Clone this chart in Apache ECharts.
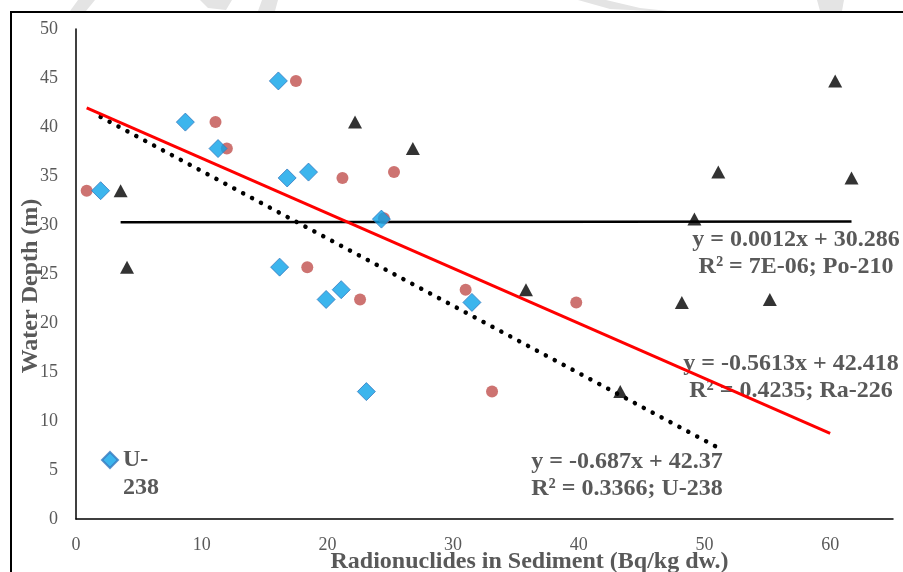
<!DOCTYPE html>
<html>
<head>
<meta charset="utf-8">
<script src="https://cdn.jsdelivr.net/npm/echarts@6/dist/echarts.min.js"></script>
<style>
  html, body { margin: 0; padding: 0; background: #fff; }
  #chart { width: 903px; height: 572px; }
</style>
</head>
<body>
<div id="chart"></div>
<script>
var myChart = echarts.init(document.getElementById('chart'));

// 数据：沉积物中放射性核素 (Bq/kg dw.) 与水深 (m)
var u238X  = [1.96, 8.7, 11.3, 16.1, 16.8, 18.5, 24.3, 16.2, 19.9, 21.1, 23.1, 31.5];
var u238Y  = [33.5, 40.5, 37.8, 44.7, 34.8, 35.4, 30.6, 25.7, 22.4, 23.4, 13.0, 22.1];
var ra226X = [0.85, 17.5, 11.1, 12.0, 21.2, 25.3, 24.5, 18.4, 22.6, 31.0, 39.8, 33.1];
var ra226Y = [33.5, 44.7, 40.5, 37.8, 34.8, 35.4, 30.7, 25.7, 22.4, 23.4, 22.1, 13.0];
var po210X = [3.55, 4.06, 22.2, 26.8, 60.4, 51.1, 61.7, 49.2, 35.8, 48.2, 55.2, 43.3];
var po210Y = [33.5, 25.7, 40.5, 37.8, 44.7, 35.4, 34.8, 30.6, 23.4, 22.1, 22.4, 13.0];

// 趋势线: [斜率, 截距, 起点x, 终点x]
var trendU  = [-0.687, 42.37, 1.96, 51.5];
var trendRa = [-0.5613, 42.418, 0.85, 60];
var trendPo = [0.0012, 30.286, 3.55, 61.7];

var eqU  = ['y = -0.687x + 42.37', 'R² = 0.3366; U-238'];
var eqRa = ['y = -0.5613x + 42.418', 'R² = 0.4235; Ra-226'];
var eqPo = ['y = 0.0012x + 30.286', 'R² = 7E-06; Po-210'];

function pairs(xs, ys) {
    return xs.map(function (x, i) { return [x, ys[i]]; });
}
function trend(t) {
    return [[t[2], t[0] * t[2] + t[1]], [t[3], t[0] * t[3] + t[1]]];
}

var serif = '"Liberation Serif", "Times New Roman", serif';
var gray = '#595959';

function eqText(lines, cx, cy) {
    return lines.map(function (s, i) {
        return {
            type: 'text', x: cx, y: cy + i * 27, z: 0,
            style: {
                text: s, fill: gray, font: 'bold 24px ' + serif,
                textAlign: 'center', textVerticalAlign: 'middle'
            }
        };
    });
}

// 背景水印（浅灰）
function wm(points) {
    return { type: 'polygon', z: -5, shape: { points: points }, style: { fill: '#e4e4e4' } };
}

var option = {
    backgroundColor: '#fff',
    animation: false,
    grid: { left: 76, right: 10, top: 29, bottom: 53, outerBoundsMode: 'none' },
    legend: {
        data: ['U-238'],
        left: 96, top: 413,
        itemWidth: 16, itemHeight: 16,
        formatter: function () { return '\nU-\n238'; },
        textStyle: {
            fontFamily: serif, fontWeight: 'bold', fontSize: 24, color: gray, lineHeight: 28
        }
    },
    xAxis: {
        type: 'value', min: 0, max: 65, interval: 10,
        name: 'Radionuclides in Sediment (Bq/kg dw.)',
        nameLocation: 'middle', nameGap: 31, nameMoveOverlap: false,
        nameTextStyle: { fontFamily: serif, fontWeight: 'bold', fontSize: 24, color: gray, padding: [0, 0, 0, 90] },
        splitLine: { show: false },
        axisTick: { show: false },
        axisLine: { lineStyle: { color: '#000', width: 1.5 } },
        axisLabel: {
            fontFamily: serif, fontSize: 18, color: gray, margin: 17,
            formatter: function (v) { return v > 60 ? '' : v; }
        }
    },
    yAxis: {
        type: 'value', min: 0, max: 50, interval: 5,
        name: 'Water Depth (m)',
        nameLocation: 'middle', nameGap: 33, nameRotate: 90, nameMoveOverlap: false,
        nameTextStyle: { fontFamily: serif, fontWeight: 'bold', fontSize: 24, color: gray, padding: [0, 24, 0, 0] },
        splitLine: { show: false },
        axisTick: { show: false },
        axisLine: { show: true, lineStyle: { color: '#000', width: 1.5 } },
        axisLabel: { fontFamily: serif, fontSize: 18, color: gray, margin: 18 }
    },
    graphic: [
        { type: 'rect', z: 10, shape: { x: 11, y: 12, width: 900, height: 580 },
          style: { fill: null, stroke: '#000', lineWidth: 2 } },
        wm([[78, 0], [95, 0], [86, 11], [70, 11]]),
        wm([[200, 0], [232, 0], [226, 10], [208, 8]]),
        wm([[262, 0], [278, 0], [275, 11], [258, 11]]),
        wm([[578, 0], [606, 0], [640, 8], [668, 11], [650, 11], [610, 9]]),
        wm([[817, 0], [844, 0], [842, 11], [820, 11]])
    ].concat(eqText(eqPo, 796, 240), eqText(eqRa, 791, 364), eqText(eqU, 627, 462)),
    series: [
        {
            name: 'U-238', type: 'scatter', symbol: 'diamond', symbolSize: 18, z: 4,
            itemStyle: { color: '#0BA3E8', borderColor: '#3579BF', borderWidth: 1 },
            data: pairs(u238X, u238Y)
        },
        {
            name: 'Ra-226', type: 'scatter', symbol: 'circle', symbolSize: 12, z: 3,
            itemStyle: { color: '#C0504D' },
            data: pairs(ra226X, ra226Y)
        },
        {
            name: 'Po-210', type: 'scatter', symbol: 'triangle', symbolSize: [14, 13], z: 3,
            itemStyle: { color: '#000' },
            data: pairs(po210X, po210Y)
        },
        {
            name: 'trend U-238', type: 'line', showSymbol: false, symbol: 'none', z: 5,
            lineStyle: { color: '#000', width: 4.5, type: [0.1, 10], cap: 'round' },
            data: trend(trendU)
        },
        {
            name: 'trend Ra-226', type: 'line', showSymbol: false, symbol: 'none', z: 5,
            lineStyle: { color: '#FF0000', width: 3 },
            data: trend(trendRa)
        },
        {
            name: 'trend Po-210', type: 'line', showSymbol: false, symbol: 'none', z: 2,
            lineStyle: { color: '#000', width: 2.5 },
            data: trend(trendPo)
        }
    ]
};

myChart.setOption(option);
</script>
</body>
</html>
